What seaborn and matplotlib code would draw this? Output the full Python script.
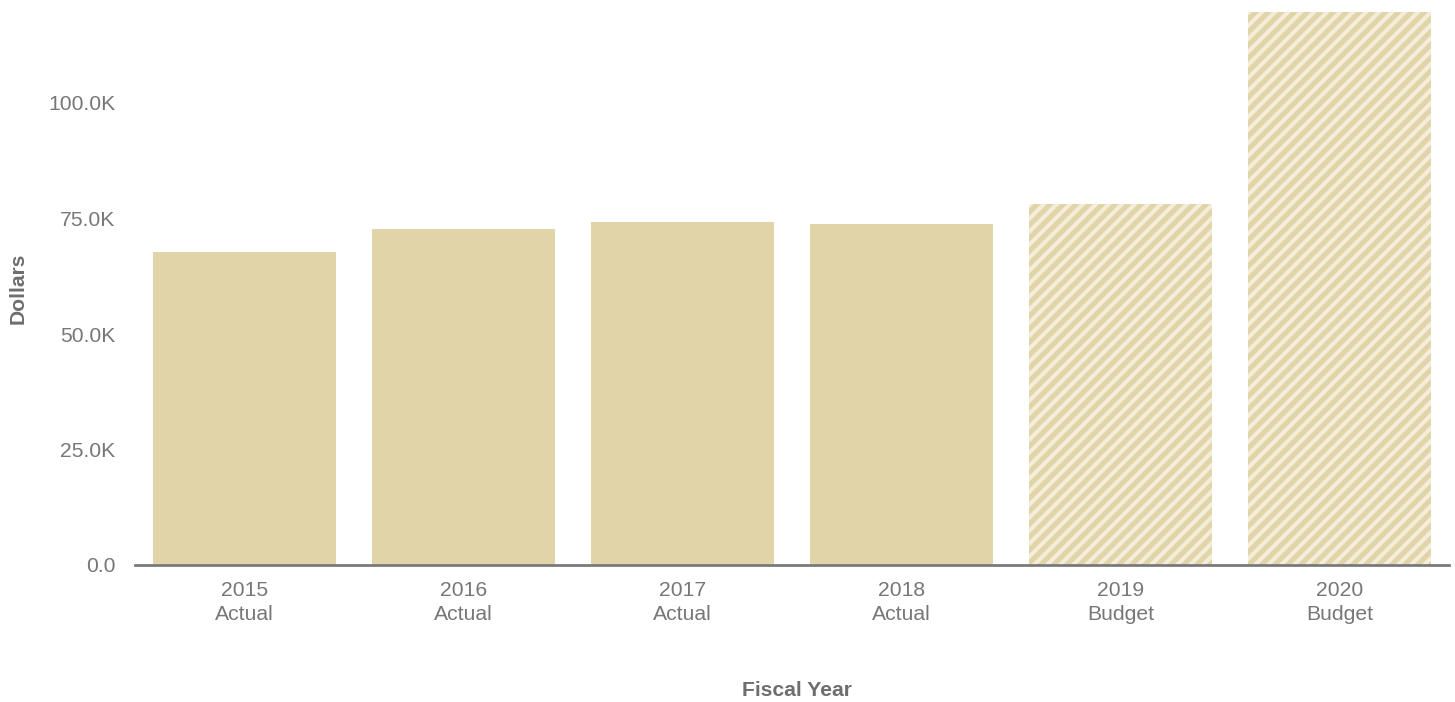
import matplotlib
matplotlib.use("Agg")
import matplotlib.pyplot as plt
import seaborn as sns
import pandas as pd
from matplotlib.ticker import FuncFormatter

years = ["2015", "2016", "2017", "2018", "2019", "2020"]
kinds = ["Actual", "Actual", "Actual", "Actual", "Budget", "Budget"]
values = [67700, 72700, 74200, 73800, 78100, 119700]
y_ticks = [0, 25000, 50000, 75000, 100000]

labels = [f"{y}\n{k}" for y, k in zip(years, kinds)]
df = pd.DataFrame({"label": labels, "value": values, "kind": kinds})

DPI = 78
W, H = 1455, 702
sns.set_theme(style="white")
plt.rcParams["font.family"] = ["Liberation Sans", "DejaVu Sans"]
plt.rcParams["hatch.linewidth"] = 3.8

fig = plt.figure(figsize=(W / DPI, H / DPI), dpi=DPI)
ax = fig.add_axes([135 / W, 137 / H, 1314 / W, (565 - 10.6) / H])

bar_color = "#e1d4a9"
hatch_color = "#f3edda"
sns.barplot(data=df, x="label", y="value", color=bar_color, width=0.84,
            saturation=1, ax=ax, linewidth=0)

for patch, kind in zip(ax.patches, kinds):
    patch.set_facecolor(bar_color)
    patch.set_linewidth(0)
    if kind == "Budget":
        patch.set_edgecolor(hatch_color)
        patch.set_hatch("//")

ax.set_xlim(-0.5, len(years) - 0.5)
ax.set_ylim(0, 120000)
ax.set_yticks(y_ticks)
ax.yaxis.set_major_formatter(FuncFormatter(lambda v, p: "0.0" if v == 0 else f"{v/1000:.1f}K"))

for s in ["top", "right", "left"]:
    ax.spines[s].set_visible(False)
ax.spines["bottom"].set_color("#777777")
ax.spines["bottom"].set_linewidth(2.5)

ax.tick_params(axis="both", length=0, labelsize=19.5, labelcolor="#777777")
ax.tick_params(axis="y", pad=18)
ax.tick_params(axis="x", pad=14.5)
for t in ax.get_xticklabels():
    t.set_linespacing(1.36)

ax.set_xlabel("")
ax.set_ylabel("")
fig.text(797 / W, 1 - 690 / H, "Fiscal Year", fontsize=19.5, fontweight="bold",
         color="#6e6e6e", ha="center", va="center")
fig.text(18 / W, 1 - 288 / H, "Dollars", fontsize=19.5, fontweight="bold",
         color="#6e6e6e", ha="center", va="center", rotation=90)
ax.grid(False)

fig.savefig("out.png", dpi=DPI, facecolor="white")
